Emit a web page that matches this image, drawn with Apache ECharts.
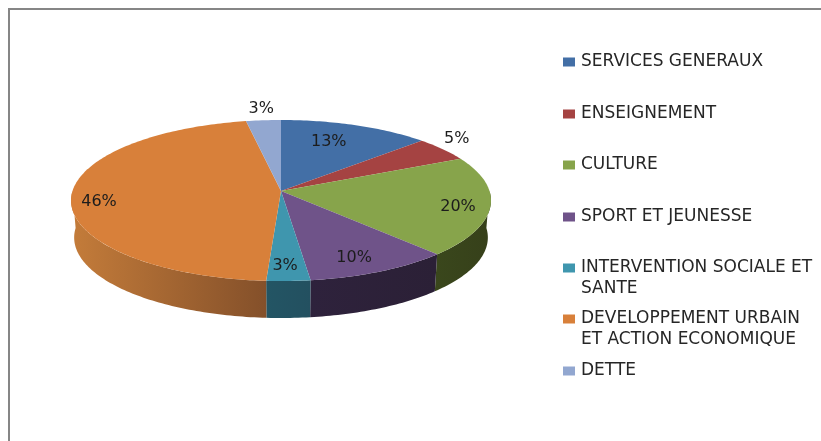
<!DOCTYPE html>
<html><head><meta charset="utf-8">
<style>html,body{margin:0;padding:0;background:#fff}#c{width:821px;height:441px}</style>
<script src="https://cdn.jsdelivr.net/npm/echarts@6/dist/echarts.min.js"></script>
</head><body><div id="c"></div>
<script>
const categories = ['SERVICES GENERAUX','ENSEIGNEMENT','CULTURE','SPORT ET JEUNESSE','INTERVENTION SOCIALE ET\nSANTE','DEVELOPPEMENT URBAIN\nET ACTION ECONOMIQUE','DETTE'];
const percents = [13,5,20,10,3,46,3];
const topColors = ['#436fa6','#a54342','#87a44b','#6f5389','#3f96ae','#d8803a','#92a7d0'];
const wallColors = [['#2a4566','#2a4566'],['#662a2a','#662a2a'],['#3a471c','#36401a'],['#2e223c','#2b2036'],['#235564','#235060'],['#c47c3a','#84502a'],['#56637c','#56637c']];
const legendTops = [64,116,167,219,270,321,373];
const labelRadius = [0.724,1.168,0.851,0.821,0.84,0.869,1.197];
const labelTurn = [-3.4,-4.2,1.8,2.3,0.6,-4.6,0.2];

const CX=281, CY=191, CY2=228, A=208.5, A2=205.4, B=79.4, K=0.118;
const rad=d=>d*Math.PI/180;
function proj(t,r,lower){
  const u=r*Math.sin(rad(t)), v=r*Math.cos(rad(t)), d=1+K*v;
  return [CX+(lower?A2:A)*u/d,(lower?CY2:CY)-B*v/d];
}
const total=percents.reduce((a,b)=>a+b,0);
function range(i){
  let s=0; for(let j=0;j<i;j++) s+=percents[j];
  return [s/total*360,(s+percents[i])/total*360];
}
function arc(t0,t1,lower){
  const n=Math.max(2,Math.ceil(Math.abs(t1-t0))), pts=[];
  for(let k=0;k<=n;k++) pts.push(proj(t0+(t1-t0)*k/n,1,lower));
  return pts;
}
function renderer(i){
  return function(){
    const [t0,t1]=range(i), children=[];
    const w0=Math.max(t0,90), w1=Math.min(t1,270);
    if(w1>w0){
      children.push({type:'polygon',z2:1,
        shape:{points:arc(w0,w1,false).concat(arc(w1,w0,true))},
        style:{fill:new echarts.graphic.LinearGradient(0,0,1,0,[{offset:0,color:wallColors[i][0]},{offset:1,color:wallColors[i][1]}])}});
    }
    children.push({type:'polygon',z2:10,
      shape:{points:[[CX,CY]].concat(arc(t0,t1,false))},
      style:{fill:topColors[i]}});
    const p=proj((t0+t1)/2+labelTurn[i],labelRadius[i],false);
    children.push({type:'text',z2:20,x:p[0],y:p[1]+1,
      style:{text:percents[i]+'%',fill:'#1c1c1c',font:'16px "DejaVu Sans"',align:'center',verticalAlign:'middle'}});
    return {type:'group',children};
  };
}
const chart=echarts.init(document.getElementById('c'),null,{renderer:'canvas'});
chart.setOption({
  animation:false,
  backgroundColor:'#fff',
  graphic:[
    {type:'rect',shape:{x:8,y:8,width:813,height:2},style:{fill:'#868686'},silent:true},
    {type:'rect',shape:{x:8,y:8,width:2,height:433},style:{fill:'#868686'},silent:true}
  ],
  legend:categories.map((c,i)=>({
    data:[c],left:563,top:legendTops[i]-10.5,orient:'vertical',padding:0,
    icon:'rect',itemWidth:12,itemHeight:9,itemGap:0,
    selectedMode:false,
    formatter:n=>n.split('\n').map(l=>'{a|'+l+'}').join('\n'),
    textStyle:{
      padding:c.includes('\n')?[0,0,-20.5,1]:[0,0,0,1],
      rich:{a:{color:'#262626',fontFamily:'DejaVu Sans',fontSize:17,lineHeight:20.5}}
    }
  })),
  series:categories.map((c,i)=>({
    type:'custom',name:c,coordinateSystem:'none',
    data:[percents[i]],
    itemStyle:{color:topColors[i]},
    renderItem:renderer(i),silent:true
  }))
});
</script></body></html>
